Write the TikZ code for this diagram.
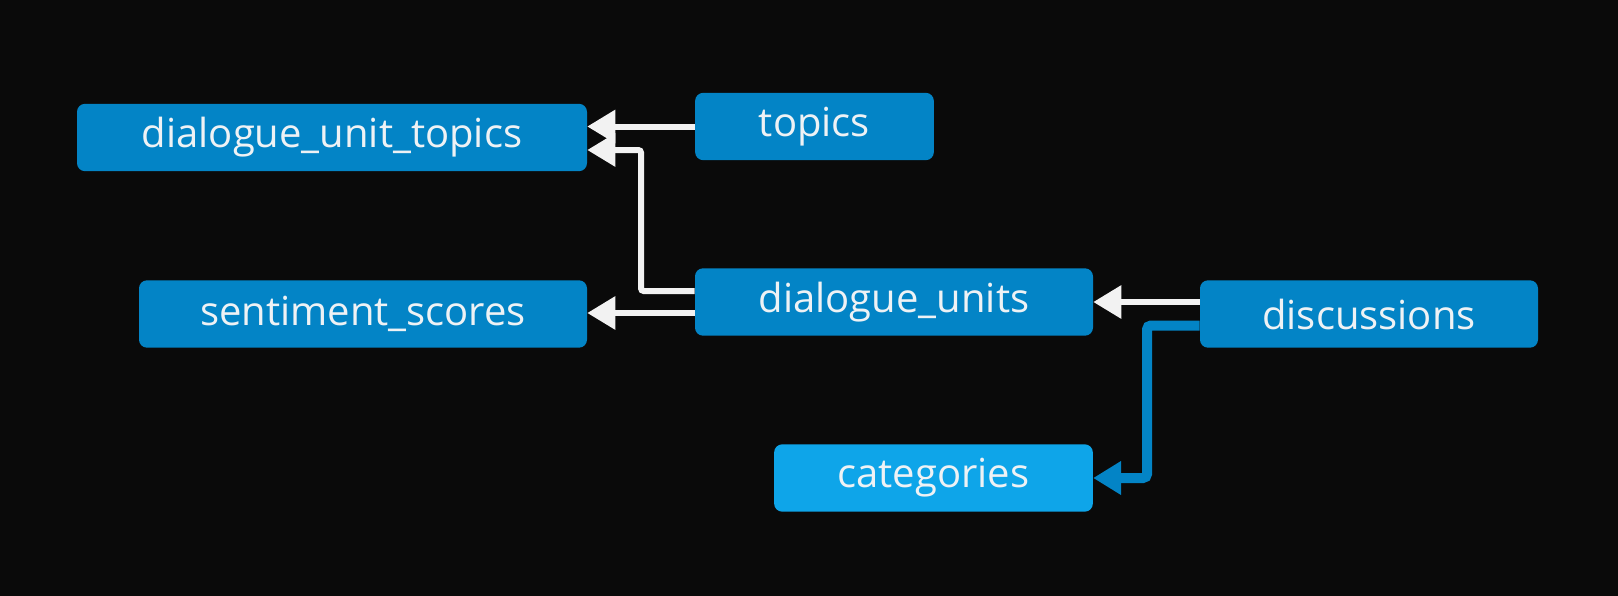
\documentclass[tikz,border=0pt]{standalone}
\usepackage{fontspec}
\setmainfont{Open Sans}
\usepackage{tikz}
\usetikzlibrary{calc,arrows.meta}
\definecolor{bgdark}{HTML}{0A0A0A}
\definecolor{tablebox}{HTML}{0384C6}
\definecolor{lightbox}{HTML}{0EA5E9}
\definecolor{linkwhite}{HTML}{F2F2F2}
\definecolor{textwhite}{HTML}{EEF2F5}

\begin{document}
\begin{tikzpicture}[x=0.75pt,y=-0.75pt,
  table/.style={fill=tablebox,rounded corners=6pt,inner sep=0pt,text=textwhite,
    font=\fontsize{30}{32}\selectfont,minimum height=50.5pt},
  fklink/.style={linkwhite,line width=4.5pt,rounded corners=2pt,
    -{Triangle[length=21pt,width=24pt]}},
  catlink/.style={tablebox,line width=7.5pt,rounded corners=3pt,
    -{Triangle[length=21pt,width=24pt]}}]

\fill [bgdark] (0,0) rectangle (1618,596);

\node [table,minimum width=382.5pt] (dut) at (332,137.5) {dialogue\_unit\_topics};
\node [table,minimum width=179pt] (topics) at (814.5,126.5) {topics};
\node [table,minimum width=336pt] (ss) at (363,314) {sentiment\_scores};
\node [table,minimum width=298.5pt] (du) at (894,302) {dialogue\_units};
\node [table,minimum width=253.5pt] (disc) at (1369,314) {discussions};
\node [table,fill=lightbox,minimum width=239pt] (cat) at (933.5,478) {categories};

\coordinate (du ss) at ($(du.west)+(0,11)$);

\draw [fklink] (topics.west) -- (topics.west -| dut.east);
\draw [fklink] ($(du.west)+(0,-11)$) -- (641,291) -- (641,150) -- ($(dut.east)+(0,12.5)$);
\draw [fklink] (du ss) -- (du ss -| ss.east);
\draw [fklink] ($(disc.west)+(0,-12)$) -- (du.east);
\draw [catlink] ($(disc.west)+(0,11.5)$) -- (1147,325.5) -- (1147,478) -- (cat.east);

\end{tikzpicture}
\end{document}
